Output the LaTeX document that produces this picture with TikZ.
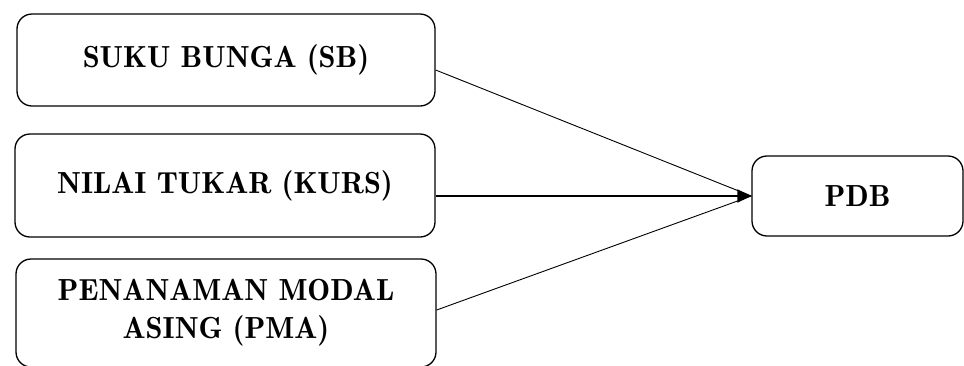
\documentclass[tikz,border=0pt]{standalone}
\usepackage{fontspec}
\newfontfamily\lmdemi{lmromandemi10-regular.otf}
\usetikzlibrary{arrows.meta}
\begin{document}
\begin{tikzpicture}[x=1pt,y=-1pt,
  box/.style={draw=black, line width=1.3pt, rounded corners=15pt, align=center,
    font=\lmdemi\fontsize{30.5}{38}\selectfont, inner sep=0pt},
  thin/.style={line width=0.9pt},
  thick/.style={line width=1.7pt}]
\useasboundingbox (0,0) rectangle (964,365);
\node[box, minimum width=418pt, minimum height=92pt] (b1) at (226,60) {SUKU BUNGA (SB)};
\node[box, minimum width=420pt, minimum height=103pt] (b2) at (225,185.5) {NILAI TUKAR (KURS)};
\node[box, minimum width=420pt, minimum height=108pt] (b3) at (226,313) {PENANAMAN MODAL\\ASING (PMA)};
\node[box, minimum width=211pt, minimum height=80pt] (pdb) at (857.5,196) {PDB};
\draw[thin] ([yshift=-10pt]b1.east) -- (pdb.west);
\draw[thin] ([yshift=3pt]b3.east) -- (pdb.west);
\draw[thick, -{Triangle[length=14pt,width=13pt]}] ([yshift=-10.5pt]b2.east) -- (pdb.west);
\end{tikzpicture}
\end{document}
